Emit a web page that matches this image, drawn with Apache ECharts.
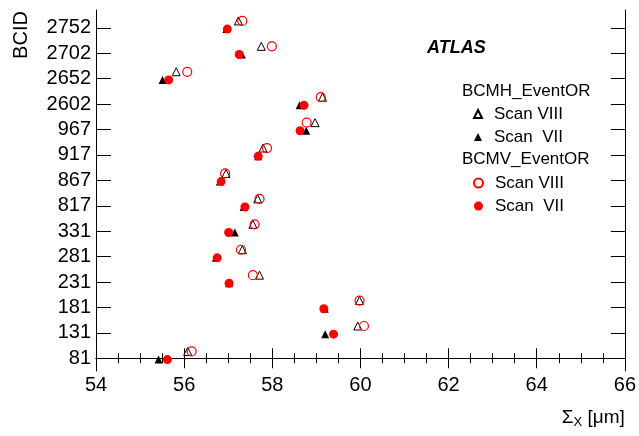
<!DOCTYPE html>
<html>
<head>
<meta charset="utf-8">
<script src="https://cdn.jsdelivr.net/npm/echarts@6/dist/echarts.min.js"></script>
<style>html,body{margin:0;padding:0;background:#fff}#c{width:639px;height:436px}</style>
</head>
<body>
<div id="c"></div>
<script>
var bcid = ['81','131','181','231','281','331','817','867','917','967','2602','2652','2702','2752'];
var bcmhScan8 = [56.08,59.94,59.98,57.71,57.32,57.56,57.67,56.95,57.79,58.97,59.14,55.82,57.75,57.23];
var bcmhScan7 = [55.42,59.20,59.19,57.02,56.72,57.15,57.35,56.81,57.68,58.77,58.62,55.51,57.31,56.96];
var bcmvScan8 = [56.17,60.08,59.98,57.56,57.29,57.60,57.71,56.93,57.88,58.78,59.10,56.07,57.99,57.32];
var bcmvScan7 = [55.62,59.39,59.17,57.02,56.75,57.01,57.38,56.84,57.68,58.63,58.72,55.65,57.25,56.98];

var FONT = 'Liberation Sans, Arial, Helvetica, sans-serif';
var OPEN_OFF = 0.27, FILL_OFF = -0.05;
function pts(vals, off){ return vals.map(function(v,i){ return [v, i+off]; }); }
var idx = bcid.map(function(_,i){return i;});

var chart = echarts.init(document.getElementById('c'), null, {renderer:'canvas'});
var axisLine = {show:true, lineStyle:{color:'#000', width:1}};
var legendText = {fontSize:17, fontFamily:FONT, color:'#000', lineHeight:20, padding:[0,0,0,7]};
chart.setOption({
  animation:false,
  backgroundColor:'#fff',
  grid:{left:96, right:12, top:10, bottom:65, containLabel:false},
  xAxis:[{
    type:'value', min:54, max:66, interval:2, position:'bottom',
    axisLine:axisLine,
    axisTick:{show:true, inside:true, length:10, lineStyle:{color:'#000'}},
    minorTick:{show:true, splitNumber:4, length:5, lineStyle:{color:'#000'}},
    splitLine:{show:false},
    axisLabel:{color:'#000', fontSize:20, fontFamily:FONT, margin:4},
    name:'{a|Σ}{b|X}{a| [μm]}', nameLocation:'end', nameGap:0,
    nameTextStyle:{align:'right', verticalAlign:'top', padding:[48,0,0,0],
      rich:{a:{fontSize:19, fontFamily:FONT, color:'#000'}, b:{fontSize:13, fontFamily:FONT, color:'#000', verticalAlign:'bottom', padding:[10,0,0,0]}}}
  },{
    type:'value', min:54, max:66, interval:2, position:'top',
    axisLine:axisLine,
    axisTick:{show:true, inside:true, length:10, lineStyle:{color:'#000'}},
    minorTick:{show:true, splitNumber:4, length:5, lineStyle:{color:'#000'}},
    splitLine:{show:false}, axisLabel:{show:false}
  }],
  yAxis:[{
    type:'value', min:-0.5, max:13.7, position:'left',
    axisLine:axisLine,
    axisTick:{show:true, inside:true, length:15, customValues:idx, lineStyle:{color:'#000'}},
    splitLine:{show:false},
    axisLabel:{color:'#000', fontSize:20, fontFamily:FONT, margin:5, customValues:idx,
      formatter:function(v){ return bcid[Math.round(v)]; }}
  },{
    type:'value', min:-0.5, max:13.7, position:'right',
    axisLine:axisLine,
    axisTick:{show:true, inside:true, length:14, customValues:idx, lineStyle:{color:'#000'}},
    splitLine:{show:false}, axisLabel:{show:false}
  }],
  legend:[{
    orient:'vertical', left:468, top:99, itemWidth:8, itemHeight:8, itemGap:3,
    data:['BCMH_EventOR|Scan VIII','BCMH_EventOR|Scan  VII'],
    formatter:function(n){return n.split('|')[1];},
    textStyle:legendText
  },{
    orient:'vertical', left:468, top:168, itemWidth:9, itemHeight:9, itemGap:3,
    data:['BCMV_EventOR|Scan VIII','BCMV_EventOR|Scan  VII'],
    formatter:function(n){return n.split('|')[1];},
    textStyle:legendText
  }],
  graphic:[
    {type:'text', left:427, top:39, style:{text:'ATLAS', font:'italic bold 18px '+FONT, fill:'#000'}},
    {type:'text', left:462, top:83, style:{text:'BCMH_EventOR', font:'17px '+FONT, fill:'#000'}},
    {type:'text', left:462, top:151, style:{text:'BCMV_EventOR', font:'17px '+FONT, fill:'#000'}},
    {type:'text', x:21, y:35, rotation:Math.PI/2, style:{text:'BCID', font:'20px '+FONT, fill:'#000', align:'center', verticalAlign:'middle'}}
  ],
  series:[
    {name:'BCMH_EventOR|Scan VIII', type:'scatter', symbol:'triangle', symbolSize:8,
     itemStyle:{color:'#fff', borderColor:'#000', borderWidth:1, opacity:1},
     data:pts(bcmhScan8, OPEN_OFF)},
    {name:'BCMH_EventOR|Scan  VII', type:'scatter', symbol:'triangle', symbolSize:8,
     itemStyle:{color:'#000', opacity:1},
     data:pts(bcmhScan7, FILL_OFF)},
    {name:'BCMV_EventOR|Scan VIII', type:'scatter', symbol:'circle', symbolSize:9,
     itemStyle:{color:'rgba(255,255,255,0)', borderColor:'#ff0000', borderWidth:1.2, opacity:1},
     data:pts(bcmvScan8, OPEN_OFF)},
    {name:'BCMV_EventOR|Scan  VII', type:'scatter', symbol:'circle', symbolSize:9,
     itemStyle:{color:'#ff0000', opacity:1},
     data:pts(bcmvScan7, FILL_OFF)}
  ]
});
</script>
</body>
</html>
